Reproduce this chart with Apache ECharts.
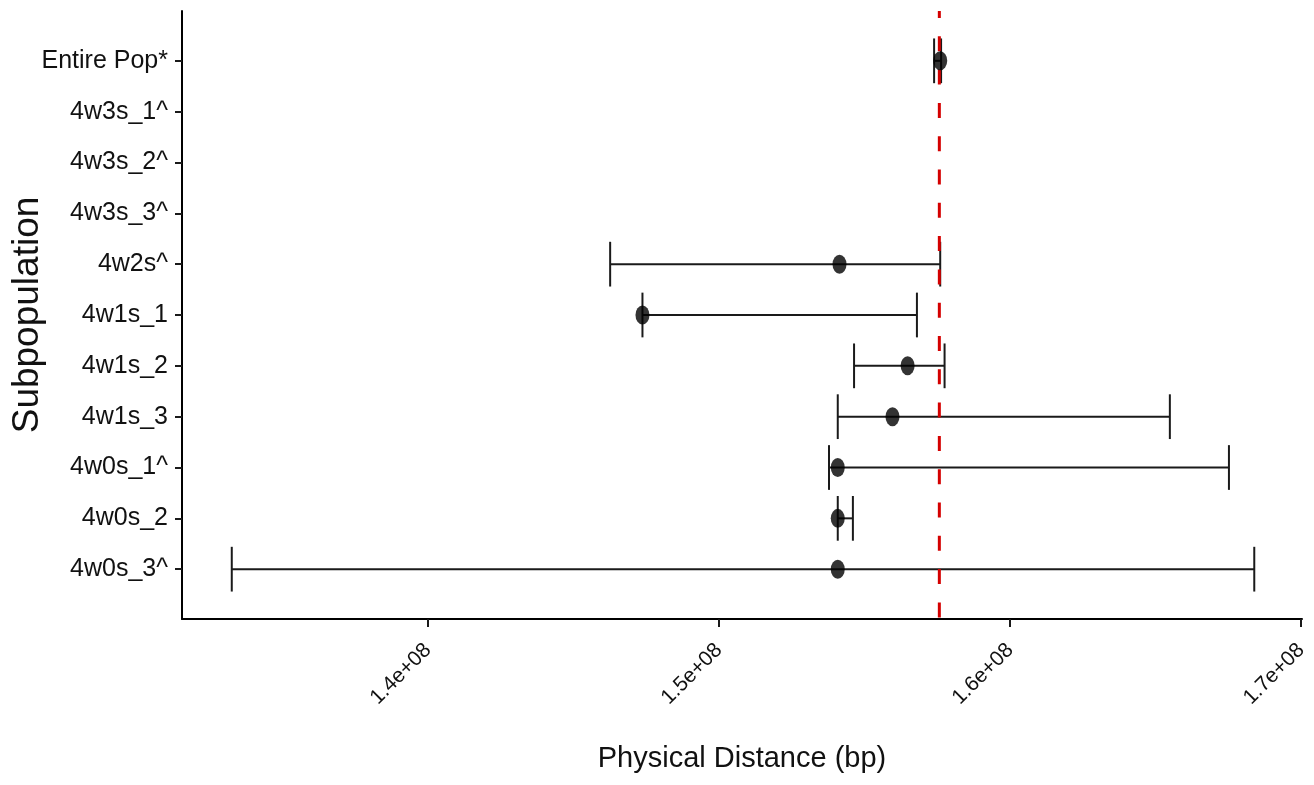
<!DOCTYPE html>
<html>
<head>
<meta charset="utf-8">
<script src="https://cdn.jsdelivr.net/npm/echarts@6/dist/echarts.min.js"></script>
<style>
  html, body { margin: 0; padding: 0; background: #fff; }
  #chart { width: 1314px; height: 785px; }
</style>
</head>
<body>
<div id="chart"></div>
<script>
// ---- data ----
const categories = ['Entire Pop*', '4w3s_1^', '4w3s_2^', '4w3s_3^', '4w2s^', '4w1s_1', '4w1s_2', '4w1s_3', '4w0s_1^', '4w0s_2', '4w0s_3^'];
const estimates = [1.5760e8, null, null, null, 1.5414e8, 1.4737e8, 1.5648e8, 1.5596e8, 1.5408e8, 1.5408e8, 1.5408e8];
const lowerCI   = [1.5739e8, null, null, null, 1.4626e8, 1.4737e8, 1.5464e8, 1.5408e8, 1.5378e8, 1.5408e8, 1.3326e8];
const upperCI   = [1.5763e8, null, null, null, 1.5760e8, 1.5680e8, 1.5775e8, 1.6549e8, 1.6752e8, 1.5460e8, 1.6839e8];
const referenceLine = 1.5757e8;
const xTickValues = [1.4e8, 1.5e8, 1.6e8, 1.7e8];
const xTickLabels = ['1.4e+08', '1.5e+08', '1.6e+08', '1.7e+08'];

const font = "'Liberation Sans', Arial, sans-serif";
const textColor = '#111';
const capHalf = 0.44;

const errData = [];
const pointData = [];
categories.forEach((c, i) => {
  if (lowerCI[i] != null && upperCI[i] != null) errData.push([lowerCI[i], upperCI[i], i]);
  if (estimates[i] != null) pointData.push([estimates[i], i]);
});
const yIdx = categories.map((c, i) => i);

const chart = echarts.init(document.getElementById('chart'), null, { renderer: 'canvas' });
chart.setOption({
  backgroundColor: '#fff',
  animation: false,
  grid: { left: 182, right: 12, top: 11, bottom: 166, containLabel: false, outerBoundsMode: 'none' },
  xAxis: {
    type: 'value',
    min: 1.3155e8,
    max: 1.7003e8,
    splitLine: { show: false },
    axisLine: { show: true, onZero: false, lineStyle: { color: '#000', width: 2 } },
    axisTick: { show: true, customValues: xTickValues, length: 8, lineStyle: { color: '#1a1a1a', width: 2 } },
    axisLabel: {
      customValues: xTickValues,
      formatter: (v) => xTickLabels[xTickValues.indexOf(v)] || '',
      rotate: 45, margin: 28, fontSize: 21, fontFamily: font, color: textColor
    },
    name: 'Physical Distance (bp)',
    nameLocation: 'middle',
    nameGap: 125,
    nameMoveOverlap: false,
    nameTextStyle: { fontSize: 29, fontFamily: font, color: textColor }
  },
  yAxis: {
    type: 'value',
    inverse: true,
    min: -0.98,
    max: 10.98,
    splitLine: { show: false },
    axisLine: { show: true, onZero: false, lineStyle: { color: '#000', width: 2 } },
    axisTick: { show: true, customValues: yIdx, length: 7, lineStyle: { color: '#1a1a1a', width: 2 } },
    axisLabel: {
      customValues: yIdx,
      formatter: (v) => categories[Math.round(v)] || '',
      margin: 14, fontSize: 25, fontFamily: font, color: textColor
    },
    name: 'Subpopulation',
    nameLocation: 'middle',
    nameRotate: 90,
    nameGap: 136,
    nameMoveOverlap: false,
    nameTextStyle: { fontSize: 37, fontFamily: font, color: textColor }
  },
  series: [
    {
      type: 'custom',
      name: 'CI',
      data: errData,
      z: 2,
      renderItem: (params, api) => {
        const lo = api.value(0), hi = api.value(1), y = api.value(2);
        const a = api.coord([lo, y]);
        const b = api.coord([hi, y]);
        const lt = api.coord([lo, y - capHalf]), lb = api.coord([lo, y + capHalf]);
        const rt = api.coord([hi, y - capHalf]), rb = api.coord([hi, y + capHalf]);
        const st = { stroke: '#1a1a1a', lineWidth: 2 };
        return {
          type: 'group',
          children: [
            { type: 'line', shape: { x1: a[0], y1: a[1], x2: b[0], y2: b[1] }, style: st },
            { type: 'line', shape: { x1: lt[0], y1: lt[1], x2: lb[0], y2: lb[1] }, style: st },
            { type: 'line', shape: { x1: rt[0], y1: rt[1], x2: rb[0], y2: rb[1] }, style: st }
          ]
        };
      }
    },
    {
      type: 'custom',
      name: 'ref',
      data: [[referenceLine]],
      z: 3,
      renderItem: (params, api) => {
        const x = api.value(0);
        const top = api.coord([x, -0.98]);
        const bot = api.coord([x, 10.98]);
        return {
          type: 'line',
          shape: { x1: top[0], y1: top[1], x2: bot[0], y2: bot[1] },
          style: { stroke: '#d40000', lineWidth: 3, lineDash: [15, 18.3], lineDashOffset: 8 }
        };
      }
    },
    {
      type: 'scatter',
      name: 'Estimate',
      data: pointData,
      symbol: 'circle',
      symbolSize: [14, 19],
      z: 4,
      itemStyle: { color: '#000' }
    }
  ]
});
</script>
</body>
</html>
